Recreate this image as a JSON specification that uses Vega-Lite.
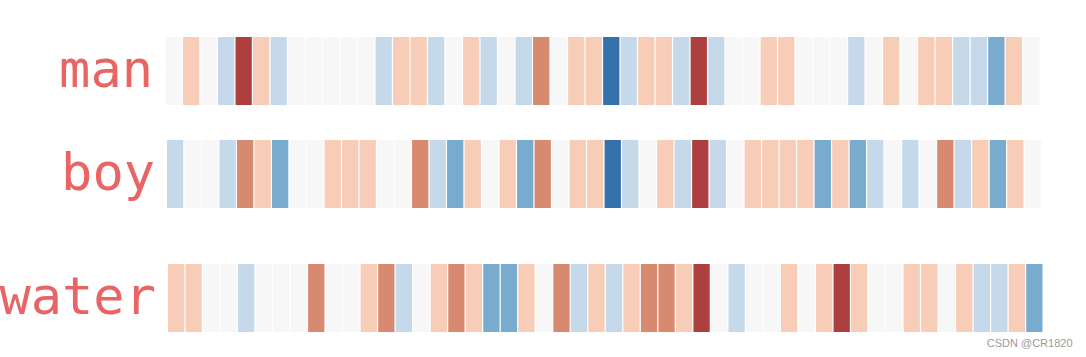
{
"$schema":"https://vega.github.io/schema/vega-lite/v6.json",
"padding":{"left":-1.5,"top":37,"right":0,"bottom":0},
"background":"white",
"title":{"text":"CSDN @CR1820","orient":"bottom","anchor":"end","frame":"group","fontSize":11,"font":"Liberation Sans","fontWeight":"normal","color":"#9a9a9a","dx":30,"offset":6},
"datasets":{
"man":[{"word":"man","dim":0,"value":0},{"word":"man","dim":1,"value":1},{"word":"man","dim":2,"value":0},{"word":"man","dim":3,"value":-1},{"word":"man","dim":4,"value":3},{"word":"man","dim":5,"value":1},{"word":"man","dim":6,"value":-1},{"word":"man","dim":7,"value":0},{"word":"man","dim":8,"value":0},{"word":"man","dim":9,"value":0},{"word":"man","dim":10,"value":0},{"word":"man","dim":11,"value":0},{"word":"man","dim":12,"value":-1},{"word":"man","dim":13,"value":1},{"word":"man","dim":14,"value":1},{"word":"man","dim":15,"value":-1},{"word":"man","dim":16,"value":0},{"word":"man","dim":17,"value":1},{"word":"man","dim":18,"value":-1},{"word":"man","dim":19,"value":0},{"word":"man","dim":20,"value":-1},{"word":"man","dim":21,"value":2},{"word":"man","dim":22,"value":0},{"word":"man","dim":23,"value":1},{"word":"man","dim":24,"value":1},{"word":"man","dim":25,"value":-3},{"word":"man","dim":26,"value":-1},{"word":"man","dim":27,"value":1},{"word":"man","dim":28,"value":1},{"word":"man","dim":29,"value":-1},{"word":"man","dim":30,"value":3},{"word":"man","dim":31,"value":-1},{"word":"man","dim":32,"value":0},{"word":"man","dim":33,"value":0},{"word":"man","dim":34,"value":1},{"word":"man","dim":35,"value":1},{"word":"man","dim":36,"value":0},{"word":"man","dim":37,"value":0},{"word":"man","dim":38,"value":0},{"word":"man","dim":39,"value":-1},{"word":"man","dim":40,"value":0},{"word":"man","dim":41,"value":1},{"word":"man","dim":42,"value":0},{"word":"man","dim":43,"value":1},{"word":"man","dim":44,"value":1},{"word":"man","dim":45,"value":-1},{"word":"man","dim":46,"value":-1},{"word":"man","dim":47,"value":-2},{"word":"man","dim":48,"value":1},{"word":"man","dim":49,"value":0}],
"boy":[{"word":"boy","dim":0,"value":-1},{"word":"boy","dim":1,"value":0},{"word":"boy","dim":2,"value":0},{"word":"boy","dim":3,"value":-1},{"word":"boy","dim":4,"value":2},{"word":"boy","dim":5,"value":1},{"word":"boy","dim":6,"value":-2},{"word":"boy","dim":7,"value":0},{"word":"boy","dim":8,"value":0},{"word":"boy","dim":9,"value":1},{"word":"boy","dim":10,"value":1},{"word":"boy","dim":11,"value":1},{"word":"boy","dim":12,"value":0},{"word":"boy","dim":13,"value":0},{"word":"boy","dim":14,"value":2},{"word":"boy","dim":15,"value":-1},{"word":"boy","dim":16,"value":-2},{"word":"boy","dim":17,"value":1},{"word":"boy","dim":18,"value":0},{"word":"boy","dim":19,"value":1},{"word":"boy","dim":20,"value":-2},{"word":"boy","dim":21,"value":2},{"word":"boy","dim":22,"value":0},{"word":"boy","dim":23,"value":1},{"word":"boy","dim":24,"value":1},{"word":"boy","dim":25,"value":-3},{"word":"boy","dim":26,"value":-1},{"word":"boy","dim":27,"value":0},{"word":"boy","dim":28,"value":1},{"word":"boy","dim":29,"value":-1},{"word":"boy","dim":30,"value":3},{"word":"boy","dim":31,"value":-1},{"word":"boy","dim":32,"value":0},{"word":"boy","dim":33,"value":1},{"word":"boy","dim":34,"value":1},{"word":"boy","dim":35,"value":1},{"word":"boy","dim":36,"value":1},{"word":"boy","dim":37,"value":-2},{"word":"boy","dim":38,"value":1},{"word":"boy","dim":39,"value":-2},{"word":"boy","dim":40,"value":-1},{"word":"boy","dim":41,"value":0},{"word":"boy","dim":42,"value":-1},{"word":"boy","dim":43,"value":0},{"word":"boy","dim":44,"value":2},{"word":"boy","dim":45,"value":-1},{"word":"boy","dim":46,"value":1},{"word":"boy","dim":47,"value":-2},{"word":"boy","dim":48,"value":1},{"word":"boy","dim":49,"value":0}],
"water":[{"word":"water","dim":0,"value":1},{"word":"water","dim":1,"value":1},{"word":"water","dim":2,"value":0},{"word":"water","dim":3,"value":0},{"word":"water","dim":4,"value":-1},{"word":"water","dim":5,"value":0},{"word":"water","dim":6,"value":0},{"word":"water","dim":7,"value":0},{"word":"water","dim":8,"value":2},{"word":"water","dim":9,"value":0},{"word":"water","dim":10,"value":0},{"word":"water","dim":11,"value":1},{"word":"water","dim":12,"value":2},{"word":"water","dim":13,"value":-1},{"word":"water","dim":14,"value":0},{"word":"water","dim":15,"value":1},{"word":"water","dim":16,"value":2},{"word":"water","dim":17,"value":1},{"word":"water","dim":18,"value":-2},{"word":"water","dim":19,"value":-2},{"word":"water","dim":20,"value":1},{"word":"water","dim":21,"value":0},{"word":"water","dim":22,"value":2},{"word":"water","dim":23,"value":-1},{"word":"water","dim":24,"value":1},{"word":"water","dim":25,"value":-1},{"word":"water","dim":26,"value":1},{"word":"water","dim":27,"value":2},{"word":"water","dim":28,"value":2},{"word":"water","dim":29,"value":1},{"word":"water","dim":30,"value":3},{"word":"water","dim":31,"value":0},{"word":"water","dim":32,"value":-1},{"word":"water","dim":33,"value":0},{"word":"water","dim":34,"value":0},{"word":"water","dim":35,"value":1},{"word":"water","dim":36,"value":0},{"word":"water","dim":37,"value":1},{"word":"water","dim":38,"value":3},{"word":"water","dim":39,"value":1},{"word":"water","dim":40,"value":0},{"word":"water","dim":41,"value":0},{"word":"water","dim":42,"value":1},{"word":"water","dim":43,"value":1},{"word":"water","dim":44,"value":0},{"word":"water","dim":45,"value":1},{"word":"water","dim":46,"value":-1},{"word":"water","dim":47,"value":-1},{"word":"water","dim":48,"value":1},{"word":"water","dim":49,"value":-2}]
},
"config":{"view":{"stroke":null},"concat":{"spacing":35},
"axisY":{"title":null,"domain":false,"ticks":false,"labelFont":"DejaVu Sans Mono","labelFontSize":52,"labelColor":"#e96464","labelPadding":10,"labelBaseline":"middle","minExtent":160,"maxExtent":160,"labelLimit":400}},
"vconcat":[
{"data":{"name":"man"},"width":877,"height":68,"mark":{"type":"rect"},
"encoding":{
"x":{"field":"dim","type":"ordinal","axis":null,"scale":{"range":[0,874],"paddingInner":0.07,"paddingOuter":0}},
"y":{"field":"word","type":"nominal","axis":{"labelPadding":13},"scale":{"paddingInner":0,"paddingOuter":0}},
"color":{"field":"value","type":"ordinal","legend":null,"scale":{"domain":[-3,-2,-1,0,1,2,3],"range":["#3571ac","#79abcf","#c5d9eb","#f7f7f7","#f7cdb7","#d88a70","#ae3f3f"]}}}},
{"spacing":56,"vconcat":[
{"data":{"name":"boy"},"width":877,"height":68,"mark":{"type":"rect"},
"encoding":{
"x":{"field":"dim","type":"ordinal","axis":null,"scale":{"range":[1.5,875.5],"paddingInner":0.07,"paddingOuter":0}},
"y":{"field":"word","type":"nominal","axis":{"labelPadding":11},"scale":{"paddingInner":0,"paddingOuter":0}},
"color":{"field":"value","type":"ordinal","legend":null,"scale":{"domain":[-3,-2,-1,0,1,2,3],"range":["#3571ac","#79abcf","#c5d9eb","#f7f7f7","#f7cdb7","#d88a70","#ae3f3f"]}}}},
{"data":{"name":"water"},"width":877,"height":68,"mark":{"type":"rect"},
"encoding":{
"x":{"field":"dim","type":"ordinal","axis":null,"scale":{"range":[2.5,877],"paddingInner":0.07,"paddingOuter":0}},
"y":{"field":"word","type":"nominal","scale":{"paddingInner":0,"paddingOuter":0}},
"color":{"field":"value","type":"ordinal","legend":null,"scale":{"domain":[-3,-2,-1,0,1,2,3],"range":["#3571ac","#79abcf","#c5d9eb","#f7f7f7","#f7cdb7","#d88a70","#ae3f3f"]}}}}
]}
]
}
